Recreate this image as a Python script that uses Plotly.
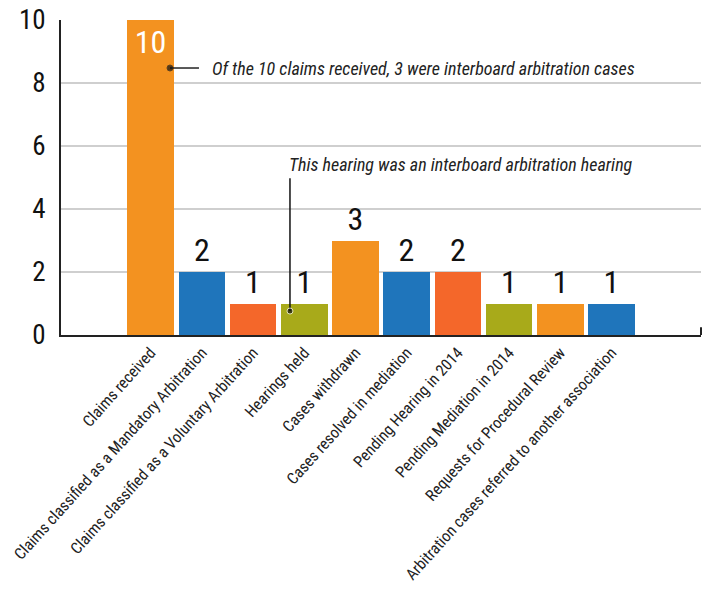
import plotly.graph_objects as go

categories = [
    "Claims received",
    "Claims classified as a Mandatory Arbitration",
    "Claims classified as a Voluntary Arbitration",
    "Hearings held",
    "Cases withdrawn",
    "Cases resolved in mediation",
    "Pending Hearing in 2014",
    "Pending Mediation in 2014",
    "Requests for Procedural Review",
    "Arbitration cases referred to another association",
]
values = [10, 2, 1, 1, 3, 2, 2, 1, 1, 1]
bar_colors = ["#F39220", "#1F75BB", "#F4672A", "#A8AA1A",
              "#F39220", "#1F75BB", "#F4672A", "#A8AA1A",
              "#F39220", "#1F75BB"]
y_ticks = [0, 2, 4, 6, 8, 10]

note1 = "Of the 10 claims received, 3 were interboard arbitration cases"
note2 = "This hearing was an interboard arbitration hearing"

NARROW = "Liberation Sans Narrow, Roboto Condensed, DejaVu Sans Condensed, Arial Narrow, sans-serif"

xpos = list(range(len(categories)))
text_pos = ["inside" if v == max(values) else "outside" for v in values]
text_col = ["white" if v == max(values) else "#111111" for v in values]

fig = go.Figure()
fig.add_trace(go.Bar(
    x=xpos, y=values, width=0.912,
    marker=dict(color=bar_colors, line=dict(width=0)),
    text=[str(v) for v in values],
    textposition=text_pos,
    insidetextanchor="end",
    textfont=dict(family=NARROW, size=32, color=text_col),
    cliponaxis=False,
    hoverinfo="skip",
))

# annotation 1: dot + leader line
fig.add_trace(go.Scatter(
    x=[0.377, 0.943], y=[8.476, 8.476], mode="lines+markers",
    line=dict(color="#222222", width=1.5),
    marker=dict(size=[6, 0], color="#111111"),
    hoverinfo="skip", showlegend=False, cliponaxis=False,
))
fig.add_annotation(x=1.158, y=8.476, xref="x", yref="y", text="<i>" + note1 + "</i>",
                   showarrow=False, xanchor="left", yanchor="middle",
                   font=dict(family=NARROW, size=18, color="#222222"))

# annotation 2: vertical leader + dot
fig.add_trace(go.Scatter(
    x=[2.72, 2.72], y=[4.98, 0.76], mode="lines+markers",
    line=dict(color="#111111", width=1.5),
    marker=dict(size=[0, 6], color="#111111"),
    hoverinfo="skip", showlegend=False, cliponaxis=False,
))
fig.add_annotation(x=2.662, y=5.4, xref="x", yref="y", text="<i>" + note2 + "</i>",
                   showarrow=False, xanchor="left", yanchor="middle",
                   font=dict(family=NARROW, size=18, color="#222222"))

# small end tick at right of x axis
fig.add_shape(type="line", xref="paper", yref="y", x0=1, x1=1, y0=0, y1=0.25,
              line=dict(color="#222222", width=2))

fig.update_layout(
    width=706, height=594,
    margin=dict(l=61, r=5, t=20, b=259),
    paper_bgcolor="white", plot_bgcolor="white",
    showlegend=False,
    bargap=0,
)
fig.update_xaxes(
    range=[-1.752, 10.748],
    tickmode="array", tickvals=xpos, ticktext=categories,
    tickangle=-48,
    tickfont=dict(family=NARROW, size=16, color="#222222"),
    ticklabeloverflow="allow",
    automargin=False,
    showgrid=False, zeroline=False,
    showline=True, linecolor="#222222", linewidth=2,
    ticks="",
)
fig.update_yaxes(
    range=[0, 10],
    tickmode="array", tickvals=y_ticks, ticktext=[str(t) for t in y_ticks],
    tickfont=dict(family=NARROW, size=27, color="#111111"),
    ticklabelstandoff=8,
    automargin=False,
    showgrid=True, gridcolor="#cfcfcf", gridwidth=1.5,
    zeroline=False,
    showline=True, linecolor="#222222", linewidth=2,
    ticks="",
)

fig.write_html("out.html")
